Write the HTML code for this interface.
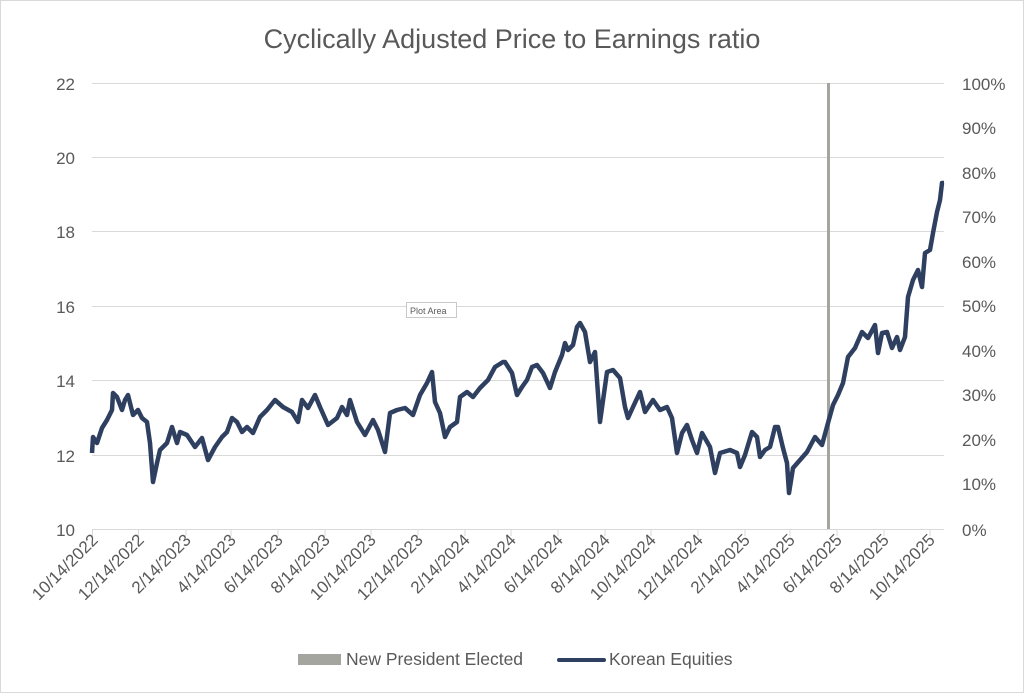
<!DOCTYPE html>
<html><head><meta charset="utf-8"><style>
html,body{margin:0;padding:0;background:#fff;}
svg{display:block;font-family:"Liberation Sans",sans-serif;}
</style></head><body>
<svg width="1024" height="693" viewBox="0 0 1024 693" xmlns="http://www.w3.org/2000/svg">
<rect x="0.5" y="0.5" width="1023" height="692" fill="#fff" stroke="#d9d9d9"/>
<text x="512" y="48" text-anchor="middle" font-size="27" fill="#595959">Cyclically Adjusted Price to Earnings ratio</text>
<g stroke="#d9d9d9" stroke-width="1">
<line x1="92" y1="83.5" x2="944" y2="83.5"/>
<line x1="92" y1="157.5" x2="944" y2="157.5"/>
<line x1="92" y1="231.5" x2="944" y2="231.5"/>
<line x1="92" y1="306.5" x2="944" y2="306.5"/>
<line x1="92" y1="380.5" x2="944" y2="380.5"/>
<line x1="92" y1="455.5" x2="944" y2="455.5"/>
<line x1="92" y1="529.5" x2="944" y2="529.5"/>
</g>
<g font-size="17" fill="#595959" text-anchor="end">
<text x="75" y="90">22</text><text x="75" y="164">20</text><text x="75" y="238">18</text>
<text x="75" y="313">16</text><text x="75" y="387">14</text><text x="75" y="462">12</text><text x="75" y="536">10</text>
</g>
<g font-size="17" fill="#595959">
<text x="962" y="90">100%</text><text x="962" y="134">90%</text><text x="962" y="179">80%</text>
<text x="962" y="223">70%</text><text x="962" y="268">60%</text><text x="962" y="312">50%</text>
<text x="962" y="357">40%</text><text x="962" y="401">30%</text><text x="962" y="446">20%</text>
<text x="962" y="490">10%</text><text x="962" y="536">0%</text>
</g>
<rect x="827" y="83" width="3" height="446" fill="#a5a5a0"/>
<g stroke="#d9d9d9">
<line x1="92.5" y1="530" x2="92.5" y2="536"/><line x1="138.5" y1="530" x2="138.5" y2="536"/><line x1="186" y1="530" x2="186" y2="536"/><line x1="231" y1="530" x2="231" y2="536"/><line x1="278" y1="530" x2="278" y2="536"/><line x1="325" y1="530" x2="325" y2="536"/><line x1="371" y1="530" x2="371" y2="536"/><line x1="418" y1="530" x2="418" y2="536"/><line x1="465" y1="530" x2="465" y2="536"/><line x1="511" y1="530" x2="511" y2="536"/><line x1="558" y1="530" x2="558" y2="536"/><line x1="605" y1="530" x2="605" y2="536"/><line x1="651" y1="530" x2="651" y2="536"/><line x1="698" y1="530" x2="698" y2="536"/><line x1="745" y1="530" x2="745" y2="536"/><line x1="790" y1="530" x2="790" y2="536"/><line x1="837" y1="530" x2="837" y2="536"/><line x1="884" y1="530" x2="884" y2="536"/><line x1="930" y1="530" x2="930" y2="536"/>
</g>
<g font-size="17" fill="#595959" text-anchor="end">
<text transform="translate(99,541) rotate(-45)">10/14/2022</text>
<text transform="translate(145,541) rotate(-45)">12/14/2022</text>
<text transform="translate(192,541) rotate(-45)">2/14/2023</text>
<text transform="translate(237,541) rotate(-45)">4/14/2023</text>
<text transform="translate(284,541) rotate(-45)">6/14/2023</text>
<text transform="translate(331,541) rotate(-45)">8/14/2023</text>
<text transform="translate(377,541) rotate(-45)">10/14/2023</text>
<text transform="translate(424,541) rotate(-45)">12/14/2023</text>
<text transform="translate(471,541) rotate(-45)">2/14/2024</text>
<text transform="translate(517,541) rotate(-45)">4/14/2024</text>
<text transform="translate(564,541) rotate(-45)">6/14/2024</text>
<text transform="translate(611,541) rotate(-45)">8/14/2024</text>
<text transform="translate(657,541) rotate(-45)">10/14/2024</text>
<text transform="translate(704,541) rotate(-45)">12/14/2024</text>
<text transform="translate(751,541) rotate(-45)">2/14/2025</text>
<text transform="translate(796,541) rotate(-45)">4/14/2025</text>
<text transform="translate(843,541) rotate(-45)">6/14/2025</text>
<text transform="translate(890,541) rotate(-45)">8/14/2025</text>
<text transform="translate(936,541) rotate(-45)">10/14/2025</text>
</g>
<polyline fill="none" stroke="#2e3f60" stroke-width="4.5" stroke-linejoin="round" points="92,453 93,437 97,443 102,428 107,420 112,410 113,393 117,397 122,410 125,400 128,395 133,415 138,410 142,418 147,422 150,443 153,482 157,463 160,450 167,443 172,427 177,443 180,432 187,435 195,447 202,438 208,460 215,447 222,437 227,432 232,418 237,422 242,432 247,427 253,433 260,417 267,410 275,400 283,407 292,412 298,422 302,400 308,408 315,395 320,407 328,425 337,418 342,407 347,415 350,400 357,422 365,435 373,420 378,430 385,452 390,413 397,410 405,408 413,415 420,395 427,383 432,372 435,402 440,413 445,437 450,427 457,422 460,397 467,392 473,397 480,388 488,380 495,367 503,362 505,362 512,373 517,395 522,387 527,380 532,367 537,365 543,373 550,388 555,372 562,355 565,343 568,350 573,345 577,327 580,323 585,332 590,362 595,352 600,422 607,372 613,370 620,378 625,407 628,418 633,407 640,392 645,412 653,400 660,410 667,407 672,418 677,453 682,433 687,425 692,440 697,453 702,433 710,447 715,473 720,453 730,450 737,453 740,467 745,455 752,432 757,437 760,457 765,450 770,447 775,427 778,427 783,448 787,463 789,493 793,468 800,460 807,452 815,437 822,445 828,423 833,405 838,395 843,383 848,357 855,348 862,332 868,338 875,325 878,353 882,333 887,332 892,348 897,337 900,350 905,337 908,297 913,280 918,270 922,287 925,253 930,250 933,233 937,212 940,200 942,183 944,183"/>
<rect x="298" y="654" width="43" height="11" fill="#a5a5a0"/>
<text x="346" y="665" font-size="17.5" fill="#595959">New President Elected</text>
<line x1="559" y1="660" x2="604" y2="660" stroke="#2e3f60" stroke-width="4" stroke-linecap="round"/>
<text x="609" y="665" font-size="17.5" fill="#595959">Korean Equities</text>
<rect x="406.5" y="302.5" width="50" height="15" fill="#fff" stroke="#c8c8c8"/>
<text x="410" y="314" font-size="9" fill="#595959">Plot Area</text>
</svg>
</body></html>
